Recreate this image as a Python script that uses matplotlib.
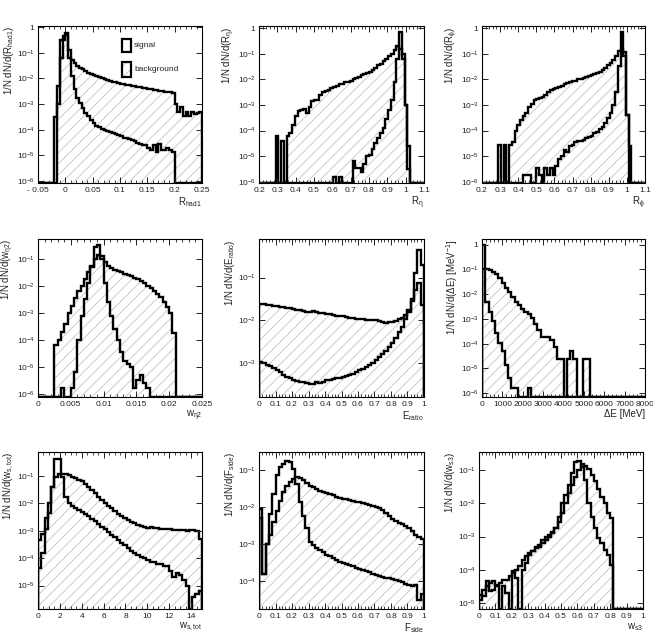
import numpy as np
import matplotlib
matplotlib.use('Agg')
import matplotlib.pyplot as plt
from matplotlib.ticker import FixedLocator, AutoMinorLocator, FuncFormatter, NullLocator
from matplotlib.patches import Rectangle

plt.rcParams['font.family'] = ['Liberation Sans', 'DejaVu Sans']
plt.rcParams['mathtext.default'] = 'regular'
plt.rcParams['hatch.linewidth'] = 0.6

EMPTY = -9   # log10 value used for empty bins (drawn on the axis floor)

# ---- data : log10(1/N dN/dx) per bin --------------------------------
# R_had1 : 60 bins from -0.05 to 0.25
rhad_range = (-0.05, 0.25)
rhad_sig = [-9, -9, -9, -9, -9, -9, -3.5, -2.3, -0.5, -0.35,
            -0.25, -0.9, -1.9, -2.4, -2.75, -2.95, -3.15, -3.35, -3.45, -3.6,
            -3.75, -3.85, -3.9, -3.95, -4.0, -4.05, -4.1, -4.12, -4.15, -4.2,
            -4.25, -4.3, -4.3, -4.35, -4.4, -4.45, -4.5, -4.55, -4.6, -4.6,
            -4.7, -4.8, -4.6, -4.85, -4.55, -4.8, -4.8, -4.7, -4.8, -4.85,
            -9, -9, -9, -9, -9, -9, -9, -9, -9, -9]
rhad_bkg = [-9, -9, -9, -9, -9, -9, -9, -3.0, -1.2, -0.5,
            -0.3, -1.2, -1.3, -1.4, -1.5, -1.6, -1.65, -1.72, -1.78, -1.83,
            -1.88, -1.92, -1.96, -2.0, -2.03, -2.06, -2.1, -2.12, -2.15, -2.18,
            -2.2, -2.22, -2.25, -2.27, -2.28, -2.3, -2.33, -2.35, -2.37, -2.38,
            -2.4, -2.43, -2.44, -2.46, -2.48, -2.5, -2.52, -2.52, -2.54, -2.56,
            -3.0, -3.3, -3.1, -3.45, -3.3, -3.45, -3.3, -3.4, -3.35, -3.3]

# R_eta : 60 bins from 0.2 to 1.1
reta_range = (0.2, 1.1)
reta_sig = [-9, -9, -9, -9, -9, -9, -9, -9, -9, -9,
            -9, -9, -9, -9, -9, -9, -9, -9, -9, -9,
            -9, -9, -9, -9, -9, -9, -9, -5.8, -9, -5.8,
            -9, -9, -9, -9, -5.2, -5.45, -5.45, -5.6, -5.3, -5.0,
            -4.95, -4.7, -4.5, -4.3, -4.1, -3.9, -3.55, -3.2, -2.8, -2.1,
            -1.2, -0.15, -1.0, -3.0, -5.5, -9, -9, -9, -9, -9]
reta_bkg = [-9, -9, -9, -9, -9, -9, -4.2, -9, -4.4, -9,
            -4.2, -4.1, -3.8, -3.45, -3.25, -3.2, -3.15, -3.3, -3.1, -2.85,
            -2.8, -2.8, -2.62, -2.5, -2.45, -2.4, -2.35, -2.3, -2.27, -2.2,
            -2.18, -2.12, -2.1, -2.05, -2.0, -1.95, -1.9, -1.85, -1.8, -1.75,
            -1.7, -1.62, -1.55, -1.45, -1.4, -1.3, -1.2, -1.1, -1.0, -0.85,
            -0.7, -0.8, -1.2, -3.0, -4.6, -9, -9, -9, -9, -9]

# R_phi : 60 bins from 0.2 to 1.1
rphi_range = (0.2, 1.1)
rphi_sig = [-9, -9, -9, -9, -9, -9, -9, -9, -9, -9,
            -9, -9, -9, -9, -9, -5.75, -5.75, -5.75, -9, -9,
            -5.45, -5.75, -9, -5.45, -5.75, -5.45, -5.75, -5.4, -5.1, -5.0,
            -4.75, -4.85, -4.6, -4.55, -4.45, -4.4, -4.4, -4.35, -4.3, -4.25,
            -4.2, -4.1, -4.05, -3.95, -3.85, -3.7, -3.5, -3.3, -3.0, -2.5,
            -1.5, -0.15, -1.1, -3.4, -9, -9, -9, -9, -9, -9]
rphi_bkg = [-9, -9, -9, -9, -9, -9, -4.55, -9, -4.55, -9,
            -4.55, -4.45, -4.0, -3.8, -3.6, -3.45, -3.3, -3.1, -2.95, -2.8,
            -2.78, -2.72, -2.68, -2.6, -2.5, -2.42, -2.38, -2.33, -2.3, -2.25,
            -2.2, -2.15, -2.1, -2.08, -2.05, -2.0, -1.98, -1.95, -1.92, -1.88,
            -1.85, -1.8, -1.75, -1.7, -1.62, -1.55, -1.45, -1.35, -1.25, -1.1,
            -0.9, -0.8, -0.95, -3.4, -4.6, -9, -9, -9, -9, -9]

# w_eta2 : 50 bins from 0 to 0.025
weta_range = (0.0, 0.025)
weta_sig = [-9, -9, -9, -9, -9, -9, -9, -5.8, -9, -9,
            -5.8, -5.2, -4.0, -3.1, -2.5, -1.9, -1.3, -0.55, -0.5, -1.0,
            -1.9, -2.6, -3.1, -3.6, -4.0, -4.45, -4.8, -4.9, -5.0, -5.8,
            -5.5, -5.3, -5.6, -5.8, -9, -9, -9, -9, -9, -9,
            -9, -9, -9, -9, -9, -9, -9, -9, -9, -9]
weta_bkg = [-9, -9, -9, -9, -9, -4.2, -4.0, -3.7, -3.4, -3.0,
            -2.75, -2.45, -2.2, -2.0, -1.75, -1.5, -1.25, -1.0, -0.87, -0.9,
            -1.1, -1.25, -1.35, -1.4, -1.45, -1.5, -1.55, -1.6, -1.65, -1.7,
            -1.75, -1.82, -1.9, -2.0, -2.08, -2.18, -2.3, -2.42, -2.6, -2.8,
            -3.0, -3.75, -9, -9, -9, -9, -9, -9, -9, -9]

# E_ratio : 50 bins from 0 to 1
erat_range = (0.0, 1.0)
erat_sig = [-2.97, -3.0, -3.05, -3.08, -3.12, -3.17, -3.22, -3.27, -3.32, -3.36,
            -3.4, -3.42, -3.44, -3.45, -3.46, -3.48, -3.5, -3.45, -3.46, -3.44,
            -3.4, -3.4, -3.37, -3.35, -3.34, -3.32, -3.3, -3.27, -3.25, -3.2,
            -3.17, -3.15, -3.1, -3.05, -3.0, -2.93, -2.87, -2.8, -2.72, -2.62,
            -2.52, -2.42, -2.28, -2.15, -1.98, -1.8, -1.5, -0.9, -0.36, -0.7]
erat_bkg = [-1.63, -1.63, -1.64, -1.65, -1.66, -1.67, -1.68, -1.7, -1.71, -1.72,
            -1.73, -1.75, -1.76, -1.78, -1.8, -1.8, -1.79, -1.8, -1.82, -1.83,
            -1.85, -1.86, -1.88, -1.89, -1.9, -1.9, -1.92, -1.94, -1.95, -1.96,
            -1.97, -1.98, -1.99, -2.0, -2.0, -2.0, -2.02, -2.03, -2.06, -2.04,
            -2.03, -2.02, -1.98, -1.95, -1.88, -1.75, -1.55, -1.3, -1.12, -1.65]

# Delta E : 50 bins from 0 to 8000 MeV
de_range = (0.0, 8000.0)
de_sig = [0.0, -2.3, -2.7, -3.1, -3.55, -3.97, -4.3, -4.85, -5.4, -5.8,
          -5.8, -9, -9, -9, -5.8, -9, -9, -9, -9, -9,
          -9, -9, -9, -9, -9, -9, -9, -9, -9, -9,
          -9, -9, -9, -9, -9, -9, -9, -9, -9, -9,
          -9, -9, -9, -9, -9, -9, -9, -9, -9, -9]
de_bkg = [-1.0, -1.0, -1.03, -1.1, -1.2, -1.35, -1.55, -1.75, -1.92, -2.12,
          -2.3, -2.45, -2.6, -2.72, -2.8, -2.95, -3.2, -3.45, -3.72, -3.75,
          -3.75, -3.85, -4.15, -4.6, -4.6, -9, -4.6, -4.3, -4.6, -9,
          -9, -4.6, -4.6, -9, -9, -9, -9, -9, -9, -9,
          -9, -9, -9, -9, -9, -9, -9, -9, -9, -9]

# w_s,tot : 50 bins from 0 to 15
wtot_range = (0.0, 15.0)
wtot_sig = [-4.35, -3.8, -2.95, -2.35, -1.4, -0.37, -0.37, -1.04, -1.76, -2.0,
            -2.1, -2.18, -2.25, -2.3, -2.37, -2.47, -2.57, -2.66, -2.76, -2.85,
            -2.95, -3.05, -3.15, -3.24, -3.33, -3.43, -3.53, -3.63, -3.72, -3.82,
            -3.88, -3.95, -4.0, -4.05, -4.13, -4.15, -4.2, -4.22, -4.27, -4.3,
            -4.45, -4.7, -4.55, -4.6, -4.8, -5.0, -9, -5.4, -5.3, -5.2]
wtot_bkg = [-3.35, -3.1, -2.55, -2.0, -1.4, -1.04, -0.94, -0.92, -0.93, -0.97,
            -1.02, -1.07, -1.13, -1.2, -1.3, -1.42, -1.52, -1.63, -1.75, -1.88,
            -1.98, -2.08, -2.18, -2.28, -2.37, -2.45, -2.53, -2.6, -2.67, -2.73,
            -2.79, -2.82, -2.86, -2.88, -2.86, -2.9, -2.88, -2.92, -2.93, -2.95,
            -2.95, -2.96, -2.97, -2.96, -2.98, -3.0, -2.98, -2.97, -3.02, -3.3]

# F_side : 50 bins from 0 to 1
fside_range = (0.0, 1.0)
fside_sig = [-2.05, -3.8, -3.0, -2.2, -1.65, -1.15, -0.93, -0.84, -0.77, -0.79,
             -0.97, -1.38, -1.88, -2.25, -2.56, -2.93, -3.03, -3.1, -3.17, -3.22,
             -3.28, -3.33, -3.38, -3.42, -3.47, -3.52, -3.54, -3.57, -3.6, -3.63,
             -3.66, -3.7, -3.73, -3.76, -3.8, -3.83, -3.86, -3.88, -3.9, -3.92,
             -3.94, -3.97, -4.0, -4.03, -4.08, -4.1, -4.12, -4.1, -4.5, -4.35]
fside_bkg = [-2.3, -3.8, -3.0, -2.75, -2.4, -2.1, -1.85, -1.6, -1.45, -1.33,
             -1.25, -1.2, -1.22, -1.28, -1.35, -1.43, -1.47, -1.52, -1.56, -1.6,
             -1.63, -1.66, -1.69, -1.72, -1.75, -1.78, -1.8, -1.82, -1.84, -1.86,
             -1.88, -1.9, -1.92, -1.94, -1.97, -2.0, -2.04, -2.08, -2.15, -2.25,
             -2.32, -2.38, -2.42, -2.47, -2.52, -2.56, -2.65, -2.75, -2.82, -2.85]

# w_s3 : 50 bins from 0 to 1
ws3_range = (0.0, 1.0)
ws3_sig = [-4.9, -4.8, -4.35, -4.65, -4.6, -4.5, -9, -4.5, -4.7, -9,
           -4.1, -4.25, -9, -4.0, -3.8, -3.5, -3.45, -3.3, -3.25, -3.1,
           -3.0, -2.95, -2.85, -2.75, -2.4, -2.0, -1.75, -1.45, -1.1, -0.75,
           -0.72, -0.9, -1.3, -2.0, -2.4, -2.75, -3.05, -3.2, -3.4, -3.55,
           -3.85, -9, -9, -9, -9, -9, -9, -9, -9, -9]
ws3_bkg = [-4.75, -4.6, -4.5, -4.4, -4.35, -4.45, -4.4, -4.3, -4.3, -4.2,
           -4.05, -4.0, -3.9, -3.7, -3.6, -3.55, -3.45, -3.35, -3.3, -3.2,
           -3.1, -3.0, -2.9, -2.75, -2.55, -2.3, -2.0, -1.7, -1.45, -1.2,
           -1.0, -0.82, -0.88, -0.97, -1.15, -1.32, -1.56, -1.8, -2.0, -2.3,
           -2.45, -9, -9, -9, -9, -9, -9, -9, -9, -9]

# tick labels
rhad_ticks = [-0.05, 0, 0.05, 0.1, 0.15, 0.2, 0.25]
rhad_labels = ['- 0.05', '0', '0.05', '0.1', '0.15', '0.2', '0.25']
r_ticks = [0.2, 0.3, 0.4, 0.5, 0.6, 0.7, 0.8, 0.9, 1.0, 1.1]
r_labels = ['0.2', '0.3', '0.4', '0.5', '0.6', '0.7', '0.8', '0.9', '1', '1.1']
weta_ticks = [0, 0.005, 0.01, 0.015, 0.02, 0.025]
weta_labels = ['0', '0.005', '0.01', '0.015', '0.02', '0.025']
unit_ticks = [0, 0.1, 0.2, 0.3, 0.4, 0.5, 0.6, 0.7, 0.8, 0.9, 1.0]
unit_labels = ['0', '0.1', '0.2', '0.3', '0.4', '0.5', '0.6', '0.7', '0.8', '0.9', '1']
de_ticks = [0, 1000, 2000, 3000, 4000, 5000, 6000, 7000, 8000]
de_labels = ['0', '1000', '2000', '3000', '4000', '5000', '6000', '7000', '8000']
wtot_ticks = [0, 2, 4, 6, 8, 10, 12, 14]
wtot_labels = ['0', '2', '4', '6', '8', '10', '12', '14']

# ---- figure ---------------------------------------------------------
W, H = 653, 643
fig = plt.figure(figsize=(W / 100, H / 100), dpi=100)

# (sig, bkg, range, ylim, ticks, labels, minor, xlabel, ylabel, box in px)
panels = [
    (rhad_sig, rhad_bkg, rhad_range, (8.5e-7, 1.1), rhad_ticks, rhad_labels, 5,
     r'R$_{had1}$', r'1/N dN/d(R$_{had1}$)', (38, 26, 202, 183)),
    (reta_sig, reta_bkg, reta_range, (9e-7, 1.2), r_ticks, r_labels, 5,
     r'R$_{\eta}$', r'1/N dN/d(R$_{\eta}$)', (259, 26, 424, 183)),
    (rphi_sig, rphi_bkg, rphi_range, (9e-7, 1.2), r_ticks, r_labels, 5,
     r'R$_{\phi}$', r'1/N dN/d(R$_{\phi}$)', (482, 26, 645, 183)),
    (weta_sig, weta_bkg, weta_range, (7.5e-7, 0.55), weta_ticks, weta_labels, 5,
     r'w$_{\eta2}$', r'1/N dN/d(w$_{\eta2}$)', (38, 239, 202, 397)),
    (erat_sig, erat_bkg, erat_range, (1.6e-4, 0.8), unit_ticks, unit_labels, 5,
     r'E$_{ratio}$', r'1/N dN/d(E$_{ratio}$)', (259, 239, 424, 397)),
    (de_sig, de_bkg, de_range, (7e-7, 1.7), de_ticks, de_labels, 5,
     'ΔE [MeV]', r'1/N dN/d(ΔE) [MeV$^{-1}$]', (482, 239, 645, 397)),
    (wtot_sig, wtot_bkg, wtot_range, (1.4e-6, 0.75), wtot_ticks, wtot_labels, 4,
     r'w$_{s,tot}$', r'1/N dN/d(w$_{s,tot}$)', (38, 452, 202, 609)),
    (fside_sig, fside_bkg, fside_range, (1.8e-5, 0.3), unit_ticks, unit_labels, 5,
     r'F$_{side}$', r'1/N dN/d(F$_{side}$)', (259, 452, 424, 609)),
    (ws3_sig, ws3_bkg, ws3_range, (6.6e-6, 0.35), unit_ticks, unit_labels, 5,
     r'w$_{s3}$', r'1/N dN/d(w$_{s3}$)', (479, 452, 643, 609)),
]


def decade_label(v, pos):
    e = int(round(np.log10(v)))
    return '1' if e == 0 else r'$10^{%d}$' % e


def to_values(logs, floor):
    a = np.array(logs, dtype=float)
    return np.where(a <= EMPTY, floor, 10.0 ** a)


axes = []
for sig, bkg, xr, ylim, ticks, labels, minor, xlab, ylab, box in panels:
    x0, y0, x1, y1 = box
    ax = fig.add_axes([x0 / W, 1 - y1 / H, (x1 - x0) / W, (y1 - y0) / H])
    axes.append(ax)
    ax.set_yscale('log')
    edges = np.linspace(xr[0], xr[1], len(sig) + 1)
    floor = ylim[0]
    b = to_values(bkg, floor)
    s = to_values(sig, floor)
    ax.stairs(b, edges, baseline=floor, fill=True, facecolor='none',
              edgecolor='#c4c4c4', hatch='///', linewidth=0)
    ax.stairs(b, edges, baseline=floor, color='k', linewidth=1.7)
    ax.stairs(s, edges, baseline=floor, color='k', linewidth=1.7)
    ax.set_xlim(xr)
    ax.set_ylim(ylim)

    ax.xaxis.set_major_locator(FixedLocator(ticks))
    ax.set_xticklabels(labels)
    ax.xaxis.set_minor_locator(AutoMinorLocator(minor))
    lo = int(np.ceil(np.log10(ylim[0]) - 1e-9))
    hi = int(np.floor(np.log10(ylim[1]) + 1e-9))
    ax.yaxis.set_major_locator(FixedLocator([10.0 ** e for e in range(lo, hi + 1)]))
    ax.yaxis.set_major_formatter(FuncFormatter(decade_label))
    ax.yaxis.set_minor_locator(NullLocator())
    ax.tick_params(which='both', direction='in', top=True, right=True,
                   labelsize=6, colors='#222222')
    ax.tick_params(axis='x', pad=3)
    ax.tick_params(axis='y', pad=2.5)
    ax.tick_params(which='major', length=4, width=0.7)
    ax.tick_params(which='minor', length=2, width=0.6)
    for sp in ax.spines.values():
        sp.set_linewidth(0.8)

    ax.set_xlabel(xlab, loc='right', fontsize=7, color='#222222')
    ax.xaxis.set_label_coords(1.0, -0.075)
    ax.set_ylabel(ylab, loc='top', fontsize=7, color='#222222')
    ax.yaxis.set_label_coords(-22 / (x1 - x0), 1.0)

# legend in the first panel
ax = axes[0]
ax.add_patch(Rectangle((0.51, 0.836), 0.06, 0.084, transform=ax.transAxes,
                       facecolor='none', edgecolor='k', linewidth=1.6,
                       clip_on=False))
ax.add_patch(Rectangle((0.51, 0.677), 0.06, 0.096, transform=ax.transAxes,
                       facecolor='none', edgecolor='#c4c4c4', hatch='///',
                       linewidth=0, clip_on=False))
ax.add_patch(Rectangle((0.51, 0.677), 0.06, 0.096, transform=ax.transAxes,
                       facecolor='none', edgecolor='k', linewidth=1.6,
                       clip_on=False))
ax.text(0.585, 0.878, 'signal', transform=ax.transAxes, fontsize=6,
        va='center', ha='left', color='#222222')
ax.text(0.585, 0.725, 'background', transform=ax.transAxes, fontsize=6,
        va='center', ha='left', color='#222222')

fig.savefig('out.png', dpi=100)
